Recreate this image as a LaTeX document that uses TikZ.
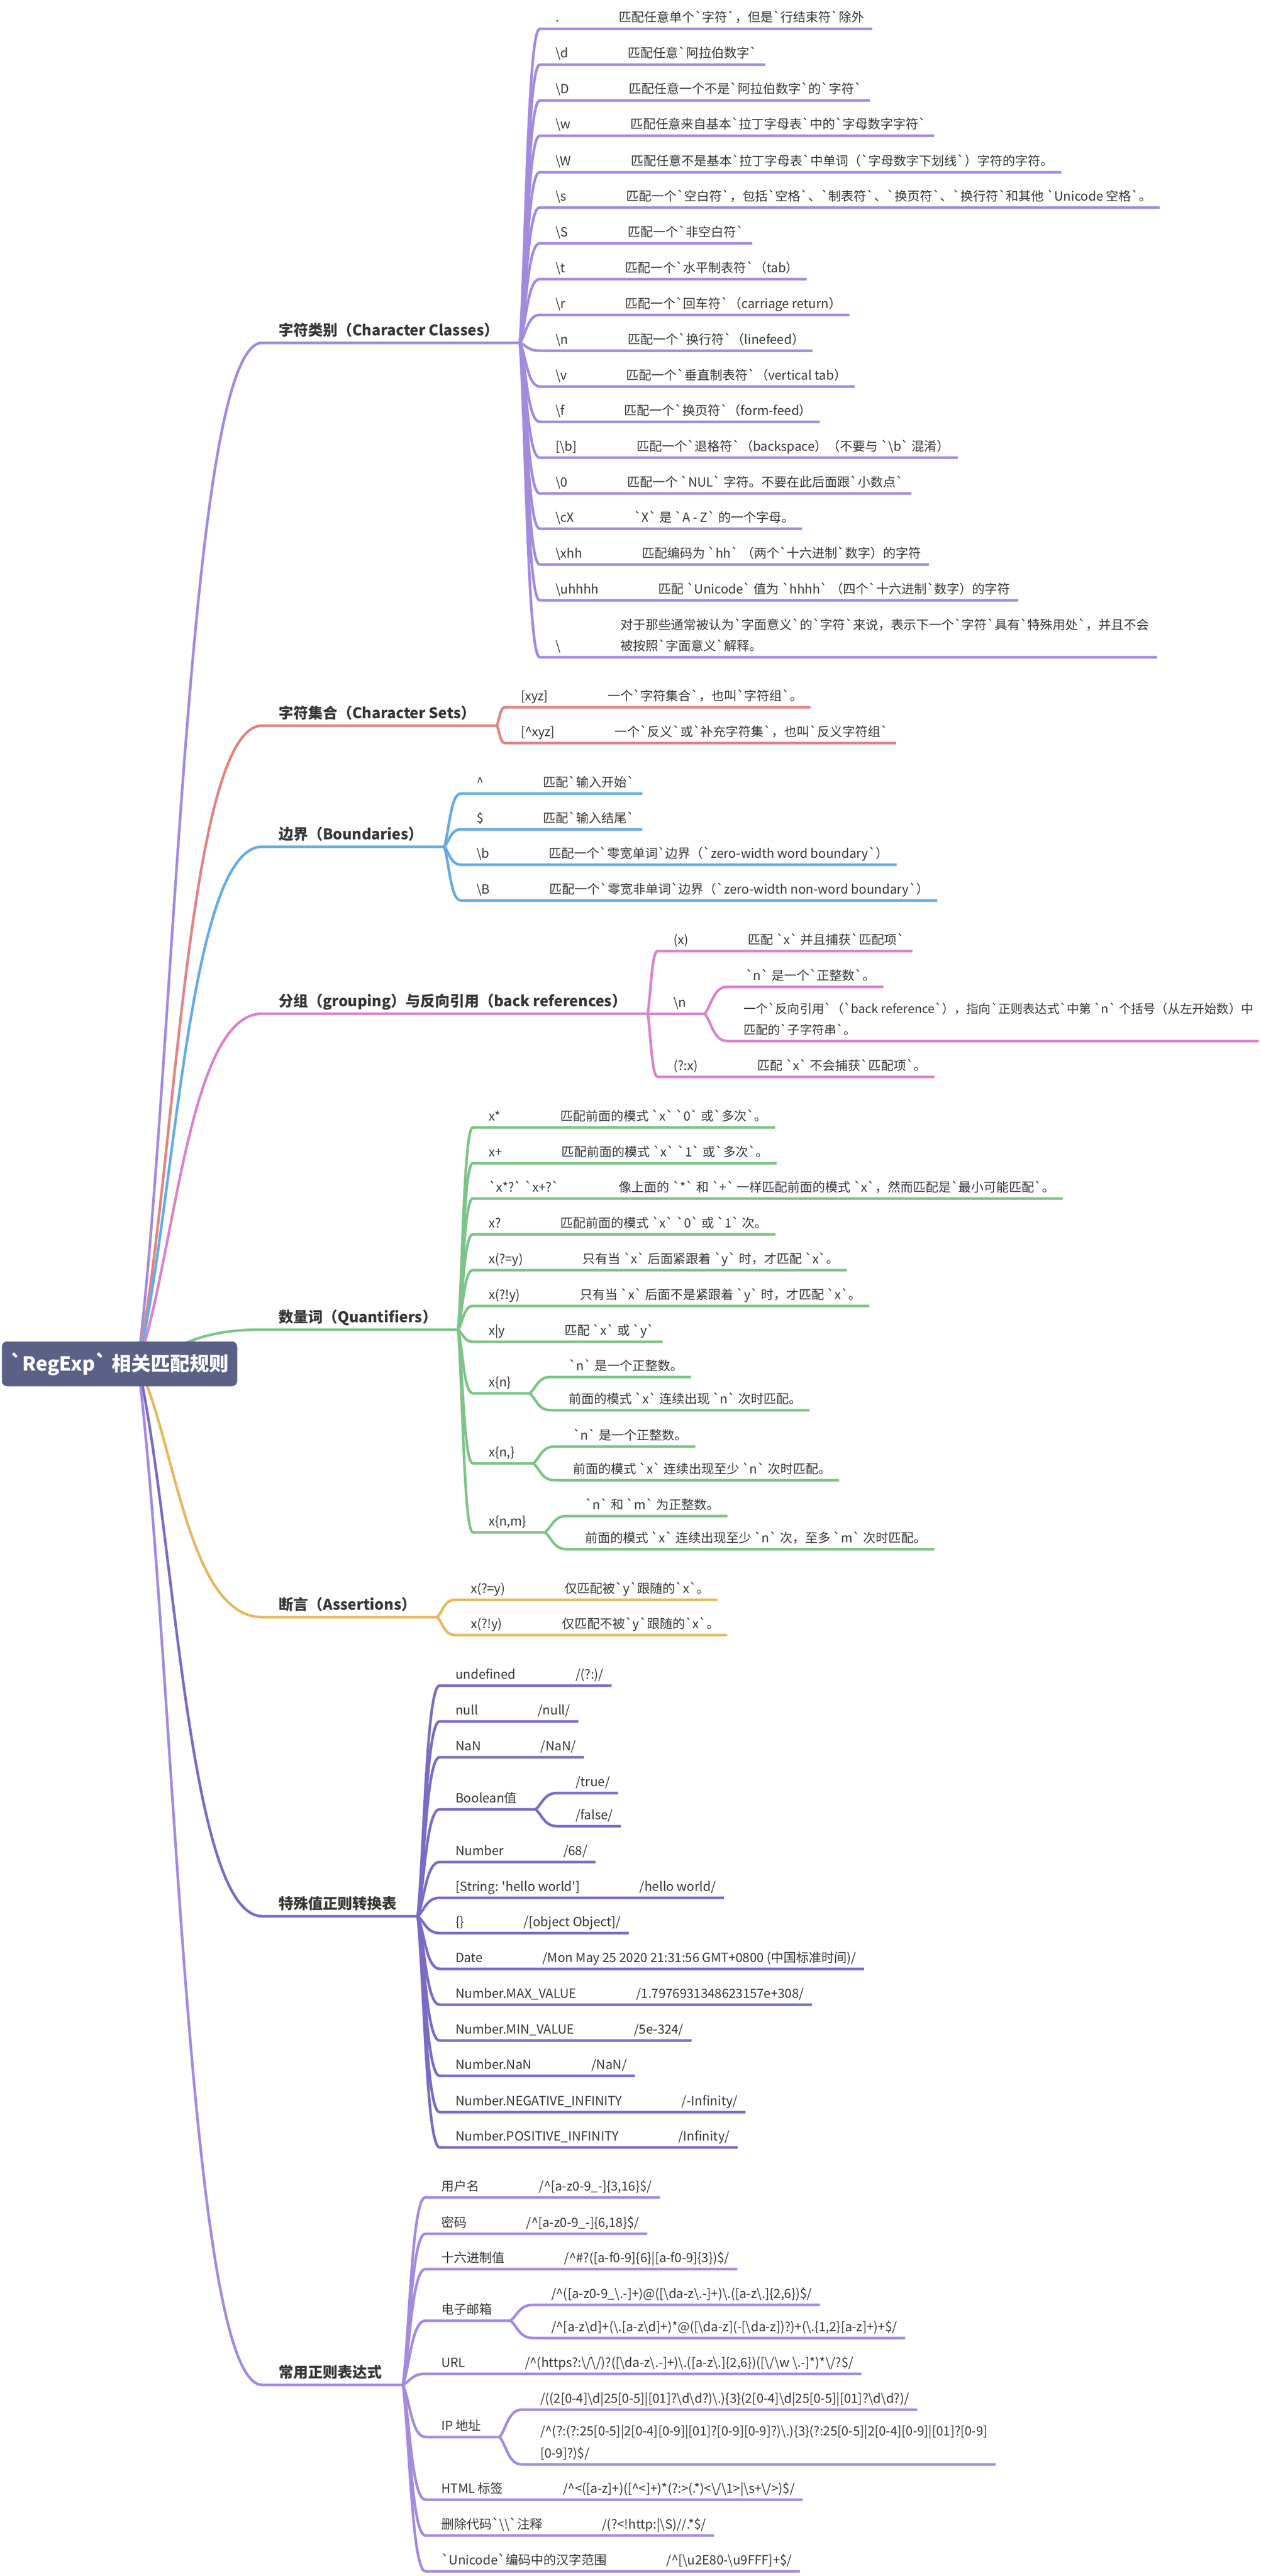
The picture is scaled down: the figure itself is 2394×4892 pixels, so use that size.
\documentclass[tikz,border=0pt]{standalone}
\usepackage{fontspec}
\usetikzlibrary{positioning}
\usetikzlibrary{calc}
\newfontfamily\cjk{Noto Sans CJK SC}
\definecolor{clsC}{RGB}{163,138,222}
\definecolor{setC}{RGB}{226,132,132}
\definecolor{bndC}{RGB}{102,172,226}
\definecolor{grpC}{RGB}{218,132,202}
\definecolor{qntC}{RGB}{126,196,138}
\definecolor{asrC}{RGB}{226,186,96}
\definecolor{spcC}{RGB}{124,106,196}
\definecolor{rootC}{RGB}{90,96,134}
\definecolor{inkC}{RGB}{55,55,55}
\newcommand{\bsl}{\textbackslash}
\newcommand{\crt}{\textasciicircum}

\tikzset{
  leaffont/.style={font=\cjk\fontsize{24}{29}\selectfont, text=inkC},
  keytext/.style={leaffont, inner sep=0pt, anchor=base west},
  valtext/.style={leaffont, inner sep=0pt},
  tighttext/.style={valtext, font=\cjk\fontsize{23.2}{28}\selectfont, anchor=base west},
  topictext/.style={font=\cjk\bfseries\fontsize{28}{34}\selectfont, text=inkC, inner sep=0pt, anchor=base west},
  rootbox/.style={rectangle, rounded corners=10pt, fill=rootC, text=white, font=\cjk\bfseries\fontsize{37}{44}\selectfont, minimum width=447pt, minimum height=85pt},
  twig/.style={to path={.. controls ($(\tikztostart)!0.3!(\tikztotarget)$) and ($(\tikztotarget)!0.6!(\tikztostart |- \tikztotarget)$) .. (\tikztotarget)}},
  lineClass/.style={draw=clsC, line width=5pt},
  lineSet/.style={draw=setC, line width=5pt},
  lineBound/.style={draw=bndC, line width=5pt},
  lineGroup/.style={draw=grpC, line width=5pt},
  lineQuant/.style={draw=qntC, line width=5pt},
  lineAssert/.style={draw=asrC, line width=5pt},
  lineSpecial/.style={draw=spcC, line width=5pt},
  lineCommon/.style={draw=clsC, line width=5pt}
}

\newcommand{\maptopic}[4]{%
  \coordinate (#2) at (498,#3);
  \node[topictext] (#2k) at (529,#3-14) {#4};
  \coordinate (#2e) at ($(#2 -| #2k.east)+(40,0)$);
  \draw[#1] (rootc) to[twig] (#2) -- (#2e);
}
\newcommand{\mapleaf}[7]{%
  \coordinate (#2) at (#4,#5);
  \node[keytext] (#2k) at (#4+30,#5-13) {#6};
  \node[valtext, base right=113pt of #2k] (#2v) {#7};
  \draw[#1] (#3) to[twig] (#2) -- ($(#2 -| #2v.east)+(15,0)$);
}
\newcommand{\mapfork}[6]{%
  \coordinate (#2) at (#4,#5);
  \node[keytext] (#2k) at (#4+30,#5-13) {#6};
  \coordinate (#2e) at ($(#2 -| #2k.east)+(35,0)$);
  \draw[#1] (#3) to[twig] (#2) -- (#2e);
}
\newcommand{\mapsub}[6]{%
  \coordinate (#2) at (#4,#5);
  \node[valtext, anchor=base west] (#2v) at (#4+35,#5-13) {#6};
  \draw[#1] (#3) to[twig] (#2) -- ($(#2 -| #2v.east)+(15,0)$);
}

\begin{document}
\begin{tikzpicture}[x=1pt, y=-1pt]
\useasboundingbox (0,0) rectangle (2394,4892);
\fill[white] (0,0) rectangle (2394,4892);
\coordinate (rootc) at (262,2590);

\maptopic{lineClass}{cc}{651}{字符类别（Character Classes）}
\mapleaf{lineClass}{cc1}{cce}{1025}{55}{.}{匹配任意单个`字符`，但是`行结束符`除外}
\mapleaf{lineClass}{cc2}{cce}{1025}{123}{\bsl d}{匹配任意`阿拉伯数字`}
\mapleaf{lineClass}{cc3}{cce}{1025}{191}{\bsl D}{匹配任意一个不是`阿拉伯数字`的`字符`}
\mapleaf{lineClass}{cc4}{cce}{1025}{258}{\bsl w}{匹配任意来自基本`拉丁字母表`中的`字母数字字符`}
\mapleaf{lineClass}{cc5}{cce}{1025}{327}{\bsl W}{匹配任意不是基本`拉丁字母表`中单词（`字母数字下划线`）字符的字符。}
\mapleaf{lineClass}{cc6}{cce}{1025}{394}{\bsl s}{匹配一个`空白符`，包括`空格`、`制表符`、`换页符`、`换行符`和其他 `Unicode 空格`。}
\mapleaf{lineClass}{cc7}{cce}{1025}{462}{\bsl S}{匹配一个`非空白符`}
\mapleaf{lineClass}{cc8}{cce}{1025}{530}{\bsl t}{匹配一个`水平制表符`（tab）}
\mapleaf{lineClass}{cc9}{cce}{1025}{598}{\bsl r}{匹配一个`回车符`（carriage return）}
\mapleaf{lineClass}{cc10}{cce}{1025}{666}{\bsl n}{匹配一个`换行符`（linefeed）}
\mapleaf{lineClass}{cc11}{cce}{1025}{734}{\bsl v}{匹配一个`垂直制表符`（vertical tab）}
\mapleaf{lineClass}{cc12}{cce}{1025}{801}{\bsl f}{匹配一个`换页符`（form-feed）}
\mapleaf{lineClass}{cc13}{cce}{1025}{869}{[\bsl b]}{匹配一个`退格符`（backspace）（不要与 `\bsl b` 混淆）}
\mapleaf{lineClass}{cc14}{cce}{1025}{937}{\bsl 0}{匹配一个 `NUL` 字符。不要在此后面跟`小数点`}
\mapleaf{lineClass}{cc15}{cce}{1025}{1004}{\bsl cX}{`X` 是 `A - Z` 的一个字母。}
\mapleaf{lineClass}{cc16}{cce}{1025}{1072}{\bsl xhh}{匹配编码为 `hh` （两个`十六进制`数字）的字符}
\mapleaf{lineClass}{cc17}{cce}{1025}{1140}{\bsl uhhhh}{匹配 `Unicode` 值为 `hhhh` （四个`十六进制`数字）的字符}
\coordinate (cc18) at (1025,1248);
\node[keytext] (cc18k) at (1055,1235) {\bsl};
\node[valtext, base right=113pt of cc18k] (cc18v) {被按照`字面意义`解释。};
\node[valtext, anchor=base west] (cc18w) at ($(cc18v.base west)+(0,-40)$) {对于那些通常被认为`字面意义`的`字符`来说，表示下一个`字符`具有`特殊用处`，并且不会};
\draw[lineClass] (cce) to[twig] (cc18) -- ($(cc18 -| cc18w.east)+(15,0)$);

\maptopic{lineSet}{cs}{1378}{字符集合（Character Sets）}
\mapleaf{lineSet}{cs1}{cse}{959}{1343}{[xyz]}{一个`字符集合`，也叫`字符组`。}
\mapleaf{lineSet}{cs2}{cse}{959}{1411}{[\crt xyz]}{一个`反义`或`补充字符集`，也叫`反义字符组`}

\maptopic{lineBound}{cb}{1608}{边界（Boundaries）}
\mapleaf{lineBound}{cb1}{cbe}{875}{1507}{\crt}{匹配`输入开始`}
\mapleaf{lineBound}{cb2}{cbe}{875}{1575}{\$}{匹配`输入结尾`}
\mapleaf{lineBound}{cb3}{cbe}{875}{1642}{\bsl b}{匹配一个`零宽单词`边界（`zero-width word boundary`）}
\mapleaf{lineBound}{cb4}{cbe}{875}{1710}{\bsl B}{匹配一个`零宽非单词`边界（`zero-width non-word boundary`）}

\maptopic{lineGroup}{cg}{1925}{分组（grouping）与反向引用（back references）}
\mapleaf{lineGroup}{cg1}{cge}{1249}{1806}{(x)}{匹配 `x` 并且捕获`匹配项`}
\mapfork{lineGroup}{cg2}{cge}{1249}{1925}{\bsl n}
\mapsub{lineGroup}{cg2a}{cg2e}{1381}{1874}{`n` 是一个`正整数`。}
\coordinate (cg2b) at (1381,1977);
\node[tighttext] (cg2bv) at (1412,1964) {匹配的`子字符串`。};
\node[tighttext] (cg2bw) at (1412,1924) {一个`反向引用`（`back reference`），指向`正则表达式`中第 `n` 个括号（从左开始数）中};
\draw[lineGroup] (cg2e) to[twig] (cg2b) -- ($(cg2b -| cg2bw.east)+(10,0)$);
\mapleaf{lineGroup}{cg3}{cge}{1249}{2045}{(?:x)}{匹配 `x` 不会捕获`匹配项`。}

\maptopic{lineQuant}{cq}{2525}{数量词（Quantifiers）}
\mapleaf{lineQuant}{cq1}{cqe}{898}{2141}{x*}{匹配前面的模式 `x` `0` 或`多次`。}
\mapleaf{lineQuant}{cq2}{cqe}{898}{2209}{x+}{匹配前面的模式 `x` `1` 或`多次`。}
\mapleaf{lineQuant}{cq3}{cqe}{898}{2276}{`x*?` `x+?`}{像上面的 `*` 和 `+` 一样匹配前面的模式 `x`，然而匹配是`最小可能匹配`。}
\mapleaf{lineQuant}{cq4}{cqe}{898}{2344}{x?}{匹配前面的模式 `x` `0` 或 `1` 次。}
\mapleaf{lineQuant}{cq5}{cqe}{898}{2412}{x(?=y)}{只有当 `x` 后面紧跟着 `y` 时，才匹配 `x`。}
\mapleaf{lineQuant}{cq6}{cqe}{898}{2480}{x(?!y)}{只有当 `x` 后面不是紧跟着 `y` 时，才匹配 `x`。}
\mapleaf{lineQuant}{cq7}{cqe}{898}{2548}{x|y}{匹配 `x` 或 `y`}
\mapfork{lineQuant}{cq8}{cqe}{898}{2646}{x\{n\}}
\mapsub{lineQuant}{cq8a}{cq8e}{1045}{2615}{`n` 是一个正整数。}
\mapsub{lineQuant}{cq8b}{cq8e}{1045}{2678}{前面的模式 `x` 连续出现 `n` 次时匹配。}
\mapfork{lineQuant}{cq9}{cqe}{898}{2779}{x\{n,\}}
\mapsub{lineQuant}{cq9a}{cq9e}{1053}{2747}{`n` 是一个正整数。}
\mapsub{lineQuant}{cq9b}{cq9e}{1053}{2811}{前面的模式 `x` 连续出现至少 `n` 次时匹配。}
\mapfork{lineQuant}{cq10}{cqe}{898}{2910}{x\{n,m\}}
\mapsub{lineQuant}{cq10a}{cq10e}{1076}{2879}{`n` 和 `m` 为正整数。}
\mapsub{lineQuant}{cq10b}{cq10e}{1076}{2942}{前面的模式 `x` 连续出现至少 `n` 次，至多 `m` 次时匹配。}

\maptopic{lineAssert}{ca}{3071}{断言（Assertions）}
\mapleaf{lineAssert}{ca1}{cae}{864}{3038}{x(?=y)}{仅匹配被`y`跟随的`x`。}
\mapleaf{lineAssert}{ca2}{cae}{864}{3105}{x(?!y)}{仅匹配不被`y`跟随的`x`。}

\maptopic{lineSpecial}{cv}{3639}{特殊值正则转换表}
\mapleaf{lineSpecial}{cv1}{cve}{835}{3201}{undefined}{/(?:)/}
\mapleaf{lineSpecial}{cv2}{cve}{835}{3269}{null}{/null/}
\mapleaf{lineSpecial}{cv3}{cve}{835}{3337}{NaN}{/NaN/}
\mapfork{lineSpecial}{cv4}{cve}{835}{3436}{Boolean值}
\mapsub{lineSpecial}{cv4a}{cv4e}{1058}{3405}{/true/}
\mapsub{lineSpecial}{cv4b}{cv4e}{1058}{3468}{/false/}
\mapleaf{lineSpecial}{cv5}{cve}{835}{3536}{Number}{/68/}
\mapleaf{lineSpecial}{cv6}{cve}{835}{3604}{[String: 'hello world']}{/hello world/}
\mapleaf{lineSpecial}{cv7}{cve}{835}{3671}{\{\}}{/[object Object]/}
\mapleaf{lineSpecial}{cv8}{cve}{835}{3739}{Date}{/Mon May 25 2020 21:31:56 GMT+0800 (中国标准时间)/}
\mapleaf{lineSpecial}{cv9}{cve}{835}{3807}{Number.MAX\_VALUE}{/1.7976931348623157e+308/}
\mapleaf{lineSpecial}{cv10}{cve}{835}{3875}{Number.MIN\_VALUE}{/5e-324/}
\mapleaf{lineSpecial}{cv11}{cve}{835}{3942}{Number.NaN}{/NaN/}
\mapleaf{lineSpecial}{cv12}{cve}{835}{4011}{Number.NEGATIVE\_INFINITY}{/-Infinity/}
\mapleaf{lineSpecial}{cv13}{cve}{835}{4078}{Number.POSITIVE\_INFINITY}{/Infinity/}

\maptopic{lineCommon}{cr}{4529}{常用正则表达式}
\mapleaf{lineCommon}{cr1}{cre}{808}{4173}{用户名}{/\crt[a-z0-9\_-]\{3,16\}\$/}
\mapleaf{lineCommon}{cr2}{cre}{808}{4242}{密码}{/\crt[a-z0-9\_-]\{6,18\}\$/}
\mapleaf{lineCommon}{cr3}{cre}{808}{4309}{十六进制值}{/\crt\#?([a-f0-9]\{6\}|[a-f0-9]\{3\})\$/}
\mapfork{lineCommon}{cr4}{cre}{808}{4407}{电子邮箱}
\mapsub{lineCommon}{cr4a}{cr4e}{1012}{4377}{/\crt([a-z0-9\_\bsl.-]+)@([\bsl da-z\bsl.-]+)\bsl.([a-z\bsl.]\{2,6\})\$/}
\mapsub{lineCommon}{cr4b}{cr4e}{1012}{4440}{/\crt[a-z\bsl d]+(\bsl.[a-z\bsl d]+)*@([\bsl da-z](-[\bsl da-z])?)+(\bsl.\{1,2\}[a-z]+)+\$/}
\mapleaf{lineCommon}{cr5}{cre}{808}{4508}{URL}{/\crt(https?:\bsl/\bsl/)?([\bsl da-z\bsl.-]+)\bsl.([a-z\bsl.]\{2,6\})([\bsl/\bsl w \bsl.-]*)*\bsl/?\$/}
\mapfork{lineCommon}{cr6}{cre}{808}{4628}{IP 地址}
\mapsub{lineCommon}{cr6a}{cr6e}{991}{4576}{/((2[0-4]\bsl d|25[0-5]|[01]?\bsl d\bsl d?)\bsl.)\{3\}(2[0-4]\bsl d|25[0-5]|[01]?\bsl d\bsl d?)/}
\coordinate (cr6b) at (991,4680);
\node[valtext, anchor=base west] (cr6bv) at (1026,4667) {[0-9]?)\$/};
\node[valtext, anchor=base west] (cr6bw) at (1026,4625) {/\crt(?:(?:25[0-5]|2[0-4][0-9]|[01]?[0-9][0-9]?)\bsl.)\{3\}(?:25[0-5]|2[0-4][0-9]|[01]?[0-9]};
\draw[lineCommon] (cr6e) to[twig] (cr6b) -- ($(cr6b -| cr6bw.east)+(15,0)$);
\mapleaf{lineCommon}{cr7}{cre}{808}{4747}{HTML 标签}{/\crt<([a-z]+)([\crt<]+)*(?:>(.*)<\bsl/\bsl 1>|\bsl s+\bsl/>)\$/}
\mapleaf{lineCommon}{cr8}{cre}{808}{4815}{删除代码`\bsl\bsl`注释}{/(?<!http:|\bsl S)//.*\$/}
\mapleaf{lineCommon}{cr9}{cre}{808}{4883}{`Unicode`编码中的汉字范围}{/\crt[\bsl u2E80-\bsl u9FFF]+\$/}

\node[rootbox] (root) at (227,2590) {`RegExp` 相关匹配规则};
\end{tikzpicture}
\end{document}
